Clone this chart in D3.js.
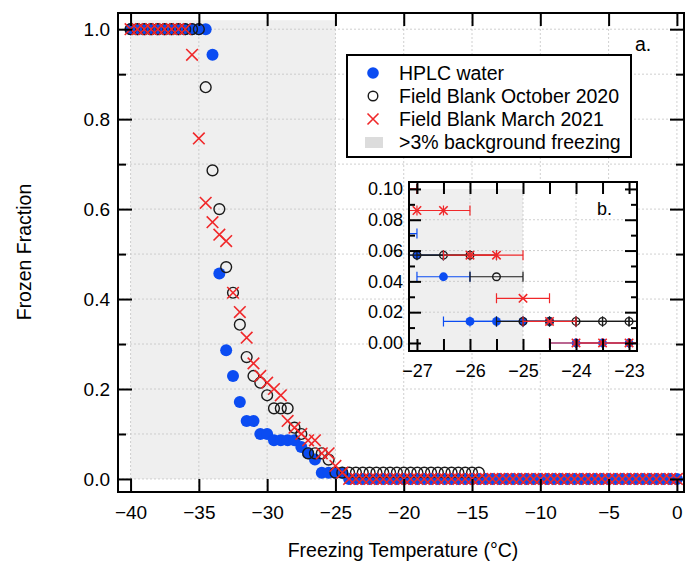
<!DOCTYPE html>
<html>
<head>
<meta charset="utf-8">
<script src="https://cdn.jsdelivr.net/npm/d3@7"></script>
<style>
  body { margin: 0; background: #fff; }
  svg text { font-family: "Liberation Sans", Arial, sans-serif; }
</style>
</head>
<body>
<div id="chart"></div>
<script>
// temperature grid (°C)
const temps = [-40,-39.5,-39,-38.5,-38,-37.5,-37,-36.5,-36,-35.5,-35,-34.5,-34,-33.5,-33,-32.5,-32,-31.5,-31,-30.5,
  -30,-29.5,-29,-28.5,-28,-27.5,-27,-26.5,-26,-25.5,-25,-24.5,-24,-23.5,-23,-22.5,-22,-21.5,-21,-20.5,
  -20,-19.5,-19,-18.5,-18,-17.5,-17,-16.5,-16,-15.5,-15,-14.5,-14,-13.5,-13,-12.5,-12,-11.5,-11,-10.5,
  -10,-9.5,-9,-8.5,-8,-7.5,-7,-6.5,-6,-5.5,-5,-4.5,-4,-3.5,-3,-2.5,-2,-1.5,-1,-0.5,0];

// frozen fraction, HPLC water
const hplcWater = [1,1,1,1,1,1,1,1,1,1,1,1,
  0.943,0.457,0.286,0.229,0.171,0.129,0.129,0.1,0.1,0.086,0.086,0.086,0.086,0.071,0.057,0.043,0.014,0.014,0.014,0.014,
  0,0,0,0,0,0,0,0,0,0,0,0,0,0,0,0,0,0,0,0,0,0,0,0,0,0,0,0,0,0,0,0,0,0,0,0,0,0,0,0,0,0,0,0,0,0,0,0,0];

// Field Blank October 2020 (run stops at -14.5)
const blankOct2020 = [1,1,1,1,1,1,1,1,1,1,1,
  0.871,0.686,0.6,0.471,0.414,0.343,0.271,0.229,0.214,0.186,0.157,0.157,0.157,0.114,0.1,0.057,0.057,0.057,0.043,
  0.014,0.014,0.014,0.014,0.014,0.014,0.014,0.014,0.014,0.014,0.014,0.014,0.014,0.014,0.014,0.014,0.014,0.014,0.014,0.014,0.014,0.014];

// Field Blank March 2021
const blankMar2021 = [1,1,1,1,1,1,1,1,1,
  0.943,0.757,0.614,0.571,0.543,0.529,0.414,0.371,0.314,0.257,0.229,0.214,0.2,0.186,0.129,0.114,0.1,0.086,0.086,0.057,0.057,0.029,0.014,
  0,0,0,0,0,0,0,0,0,0,0,0,0,0,0,0,0,0,0,0,0,0,0,0,0,0,0,0,0,0,0,0,0,0,0,0,0,0,0,0,0,0,0,0,0,0,0,0,0];

const xTicks = [-40,-35,-30,-25,-20,-15,-10,-5,0];
const yTicksMajor = [0,0.2,0.4,0.6,0.8,1.0];
const yTicksMinor = [0.1,0.3,0.5,0.7,0.9];
const yGrid = [0,0.1,0.2,0.3,0.4,0.5,0.6,0.7,0.8,0.9,1.0];

const insetXTicks = [-27,-26.5,-26,-25.5,-25,-24.5,-24,-23.5,-23];
const insetYMajor = [0,0.02,0.04,0.06,0.08,0.1];
const insetYMinor = [0.01,0.03,0.05,0.07,0.09];

const legendLabels = ['HPLC water','Field Blank October 2020','Field Blank March 2021','>3% background freezing'];

const BLUE = '#0b4cf2', RED = '#f0282a', BLK = '#1a1a1a', GREY = '#efefef';
const FONT = 19.5, TICKFONT = 19, INSETFONT = 18;

const W = 686, H = 563;
const svg = d3.select('#chart').append('svg').attr('width', W).attr('height', H);

const x = d3.scaleLinear().domain([-40.92, 0.52]).range([118, 684]);
const y = d3.scaleLinear().domain([-0.029, 1.036]).range([492, 13]);

const series = [
  {vals: hplcWater, kind: 'dot', color: BLUE},
  {vals: blankOct2020, kind: 'ring', color: BLK},
  {vals: blankMar2021, kind: 'cross', color: RED}
];
const pts = s => s.vals.map((v, i) => ({t: temps[i], f: v}));

// background freezing region
svg.append('rect')
  .attr('x', x(-40)).attr('y', y(1.02))
  .attr('width', x(-25) - x(-40)).attr('height', y(0) - y(1.02))
  .attr('fill', GREY);

// grid
const grid = svg.append('g').attr('stroke', '#c4c4c4').attr('stroke-width', 0.8).attr('stroke-dasharray', '2,2');
grid.selectAll('.gx').data(xTicks).join('line')
  .attr('x1', d => x(d)).attr('x2', d => x(d)).attr('y1', 13).attr('y2', 492);
grid.selectAll('.gy').data(yGrid).join('line')
  .attr('y1', d => y(d)).attr('y2', d => y(d)).attr('x1', 118).attr('x2', 684);

function drawMarks(g, data, kind, color, sx, sy, r) {
  if (kind === 'dot') {
    g.selectAll(null).data(data).join('circle')
      .attr('cx', d => sx(d.t)).attr('cy', d => sy(d.f)).attr('r', r + 0.6).attr('fill', color);
  } else if (kind === 'ring') {
    g.selectAll(null).data(data).join('circle')
      .attr('cx', d => sx(d.t)).attr('cy', d => sy(d.f)).attr('r', r)
      .attr('fill', 'none').attr('stroke', color).attr('stroke-width', 1.4);
  } else {
    const q = r + 0.4;
    g.selectAll(null).data(data).join('path')
      .attr('transform', d => `translate(${sx(d.t)},${sy(d.f)})`)
      .attr('d', `M${-q},${-q}L${q},${q}M${-q},${q}L${q},${-q}`)
      .attr('stroke', color).attr('stroke-width', 1.6).attr('fill', 'none');
  }
}

const plot = svg.append('g');
series.forEach(s => drawMarks(plot.append('g'), pts(s), s.kind, s.color, x, y, 5.4));

// axes, ticks pointing inward
function styleAxis(g, size) {
  g.select('.domain').remove();
  g.selectAll('line').attr('stroke', '#000').attr('stroke-width', 2);
  g.selectAll('text').attr('font-size', size || TICKFONT).attr('fill', '#000')
    .attr('font-family', '"Liberation Sans", Arial, sans-serif');
}
svg.append('g').attr('transform', 'translate(0,492)')
  .call(d3.axisBottom(x).tickValues(xTicks).tickSize(-13).tickPadding(14).tickFormat(d3.format('d')))
  .call(styleAxis);
svg.append('g').attr('transform', 'translate(0,13)')
  .call(d3.axisTop(x).tickValues(xTicks).tickSize(-13).tickFormat(''))
  .call(styleAxis);
svg.append('g').attr('transform', 'translate(118,0)')
  .call(d3.axisLeft(y).tickValues(yTicksMajor).tickSize(-14).tickPadding(8).tickFormat(d3.format('.1f')))
  .call(styleAxis);
svg.append('g').attr('transform', 'translate(118,0)')
  .call(d3.axisLeft(y).tickValues(yTicksMinor).tickSize(-8).tickFormat(''))
  .call(styleAxis);
svg.append('g').attr('transform', 'translate(684,0)')
  .call(d3.axisRight(y).tickValues(yTicksMajor).tickSize(-14).tickFormat(''))
  .call(styleAxis);
svg.append('g').attr('transform', 'translate(684,0)')
  .call(d3.axisRight(y).tickValues(yTicksMinor).tickSize(-8).tickFormat(''))
  .call(styleAxis);

svg.append('rect').attr('x', 118).attr('y', 13).attr('width', 566).attr('height', 479)
  .attr('fill', 'none').attr('stroke', '#000').attr('stroke-width', 2);

// axis titles
svg.append('text').attr('x', 403).attr('y', 557).attr('text-anchor', 'middle')
  .attr('font-size', FONT).text('Freezing Temperature (°C)');
svg.append('text').attr('transform', 'translate(31,252) rotate(-90)').attr('text-anchor', 'middle')
  .attr('font-size', FONT).text('Frozen Fraction');
svg.append('text').attr('x', 635).attr('y', 51).attr('font-size', FONT).text('a.');

// legend
const leg = svg.append('g');
leg.append('rect').attr('x', 347).attr('y', 55).attr('width', 284).attr('height', 102)
  .attr('fill', '#fff').attr('stroke', '#000').attr('stroke-width', 2);
const legRows = [73, 96, 119, 142];
legendLabels.forEach((lab, i) => {
  leg.append('text').attr('x', 399).attr('y', legRows[i] + 7).attr('font-size', FONT).text(lab);
});
leg.append('circle').attr('cx', 373).attr('cy', legRows[0]).attr('r', 5.8).attr('fill', BLUE);
leg.append('circle').attr('cx', 373).attr('cy', legRows[1]).attr('r', 4.8)
  .attr('fill', 'none').attr('stroke', BLK).attr('stroke-width', 1.4);
leg.append('path').attr('transform', `translate(373,${legRows[2]})`)
  .attr('d', 'M-5.5,-5.5L5.5,5.5M-5.5,5.5L5.5,-5.5').attr('stroke', RED).attr('stroke-width', 1.6);
leg.append('rect').attr('x', 365).attr('y', legRows[3] - 5).attr('width', 18).attr('height', 11).attr('fill', '#dcdcdc');

// ---- inset (b.) ----
const ix = d3.scaleLinear().domain([-27.15, -22.85]).range([409, 637]);
const iy = d3.scaleLinear().domain([-0.0052, 0.1045]).range([351, 182]);
const inset = svg.append('g');
inset.append('rect').attr('x', 409).attr('y', 182).attr('width', 228).attr('height', 169).attr('fill', '#fff');
svg.append('clipPath').attr('id', 'iclip').append('rect')
  .attr('x', 409).attr('y', 182).attr('width', 228).attr('height', 169);
const ib = inset.append('g').attr('clip-path', 'url(#iclip)');
ib.append('rect').attr('x', 409).attr('y', iy(0.1))
  .attr('width', ix(-25) - 409).attr('height', 351 - iy(0.1)).attr('fill', GREY);
const igrid = ib.append('g').attr('stroke', '#c4c4c4').attr('stroke-width', 0.8).attr('stroke-dasharray', '2,2');
igrid.selectAll('.gx').data([-26, -25, -24]).join('line')
  .attr('x1', d => ix(d)).attr('x2', d => ix(d)).attr('y1', 182).attr('y2', 351);
igrid.selectAll('.gy').data([0.02, 0.04, 0.06, 0.08]).join('line')
  .attr('y1', d => iy(d)).attr('y2', d => iy(d)).attr('x1', 409).attr('x2', 637);

series.forEach(s => {
  const d = pts(s).filter(p => p.t >= -28 && p.t <= -22.5);
  const g = ib.append('g');
  g.selectAll(null).data(d).join('path')
    .attr('d', p => {
      const a = ix(p.t - 0.5), b = ix(p.t + 0.5), c = iy(p.f);
      return `M${a},${c}H${b}M${a},${c - 5}V${c + 5}M${b},${c - 5}V${c + 5}`;
    })
    .attr('stroke', s.color).attr('stroke-width', 1.2).attr('fill', 'none');
  drawMarks(g, d, s.kind, s.color, ix, iy, 3.8);
});

inset.append('g').attr('transform', 'translate(0,351)')
  .call(d3.axisBottom(ix).tickValues(insetXTicks).tickSize(-12).tickPadding(13)
    .tickFormat(d => Number.isInteger(d) ? d3.format('d')(d) : ''))
  .call(g => styleAxis(g, INSETFONT));
inset.append('g').attr('transform', 'translate(0,182)')
  .call(d3.axisTop(ix).tickValues(insetXTicks).tickSize(-12).tickFormat(''))
  .call(styleAxis);
inset.append('g').attr('transform', 'translate(409,0)')
  .call(d3.axisLeft(iy).tickValues(insetYMajor).tickSize(-12).tickPadding(6).tickFormat(d3.format('.2f')))
  .call(g => styleAxis(g, INSETFONT));
inset.append('g').attr('transform', 'translate(409,0)')
  .call(d3.axisLeft(iy).tickValues(insetYMinor).tickSize(-6).tickFormat(''))
  .call(styleAxis);
inset.append('g').attr('transform', 'translate(637,0)')
  .call(d3.axisRight(iy).tickValues(insetYMajor).tickSize(-12).tickFormat(''))
  .call(styleAxis);
inset.append('g').attr('transform', 'translate(637,0)')
  .call(d3.axisRight(iy).tickValues(insetYMinor).tickSize(-6).tickFormat(''))
  .call(styleAxis);
inset.append('rect').attr('x', 409).attr('y', 182).attr('width', 228).attr('height', 169)
  .attr('fill', 'none').attr('stroke', '#000').attr('stroke-width', 2);
inset.append('text').attr('x', 597).attr('y', 215).attr('font-size', INSETFONT).text('b.');
</script>
</body>
</html>
